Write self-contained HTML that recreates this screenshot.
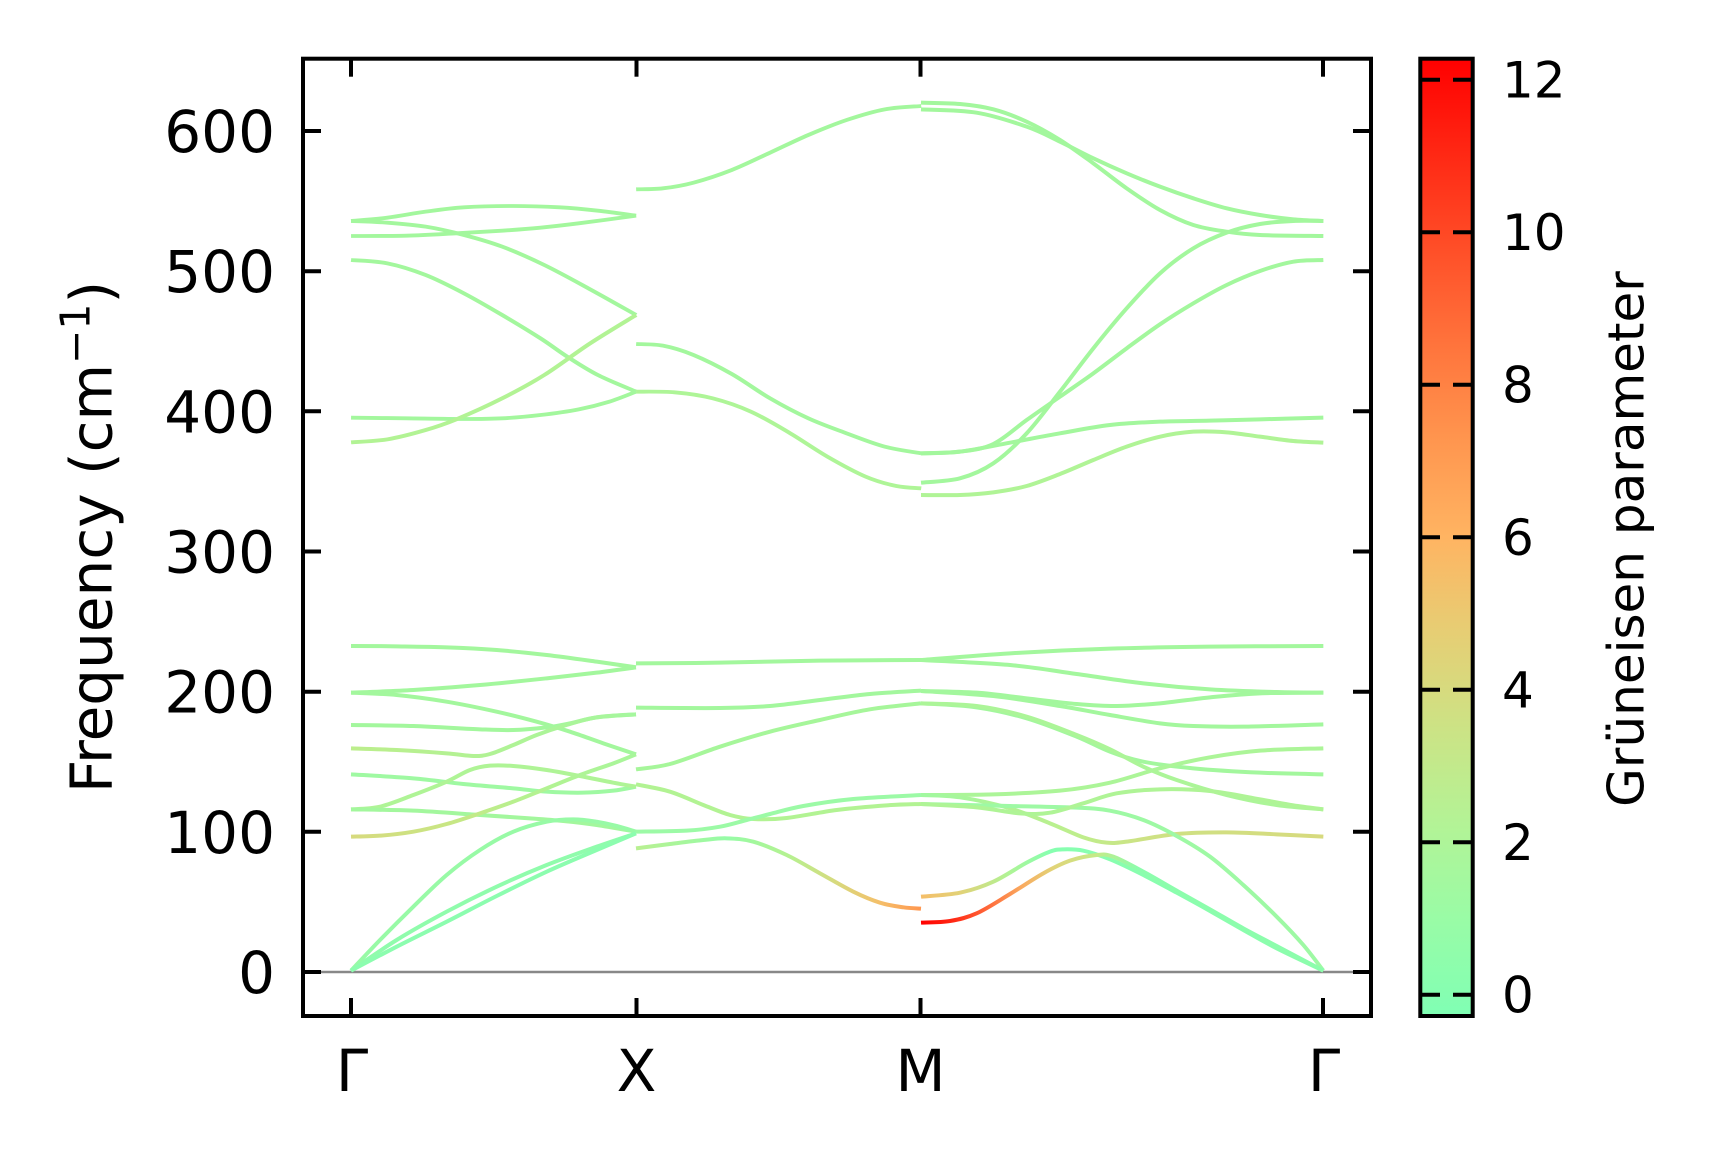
<!DOCTYPE html>
<html>
<head>
<meta charset="utf-8">
<style>
  html,body{margin:0;padding:0;background:#fff;}
  svg{display:block;}
  .g polyline,.g path{fill:none;stroke-linejoin:round;stroke-linecap:butt;}
  .t{font-family:"DejaVu Sans","Liberation Sans",sans-serif;fill:#000;}
</style>
</head>
<body>
<svg width="1717" height="1162" viewBox="0 0 1717 1162" xmlns="http://www.w3.org/2000/svg">
<defs>
  <linearGradient id="cb" x1="0" y1="1" x2="0" y2="0">
    <stop offset="0" stop-color="#80ffb4"/>
    <stop offset="0.1" stop-color="#99fca6"/>
    <stop offset="0.2" stop-color="#b3f396"/>
    <stop offset="0.3" stop-color="#cce385"/>
    <stop offset="0.4" stop-color="#e6ce74"/>
    <stop offset="0.5" stop-color="#ffb462"/>
    <stop offset="0.6" stop-color="#ff964f"/>
    <stop offset="0.7" stop-color="#ff743c"/>
    <stop offset="0.8" stop-color="#ff4f28"/>
    <stop offset="0.9" stop-color="#ff2814"/>
    <stop offset="1" stop-color="#ff0000"/>
  </linearGradient>
  <linearGradient id="g6y" gradientUnits="userSpaceOnUse" x1="63" y1="0" x2="918" y2="0">
    <stop offset="0" stop-color="rgb(215,218,126)"/>
    <stop offset="0.34" stop-color="rgb(200,230,132)"/>
    <stop offset="0.63" stop-color="rgb(180,242,145)"/>
    <stop offset="1" stop-color="rgb(168,246,155)"/>
  </linearGradient>
  <linearGradient id="g6c" gradientUnits="userSpaceOnUse" x1="63" y1="0" x2="918" y2="0">
    <stop offset="0" stop-color="rgb(188,238,140)"/>
    <stop offset="1" stop-color="rgb(165,247,158)"/>
  </linearGradient>
  <linearGradient id="g7" gradientUnits="userSpaceOnUse" x1="48" y1="0" x2="903" y2="0">
    <stop offset="0" stop-color="rgb(185,240,145)"/>
    <stop offset="0.32" stop-color="rgb(150,252,167)"/>
    <stop offset="0.53" stop-color="rgb(180,242,145)"/>
    <stop offset="0.7" stop-color="rgb(215,218,126)"/>
    <stop offset="0.86" stop-color="rgb(245,190,105)"/>
    <stop offset="1" stop-color="rgb(255,150,79)"/>
  </linearGradient>
  <linearGradient id="g8a" gradientUnits="userSpaceOnUse" x1="33" y1="0" x2="1240" y2="0">
    <stop offset="0" stop-color="rgb(160,249,160)"/>
    <stop offset="0.39" stop-color="rgb(190,238,140)"/>
    <stop offset="0.55" stop-color="rgb(205,226,132)"/>
    <stop offset="1" stop-color="rgb(215,218,126)"/>
  </linearGradient>
  <linearGradient id="g8b" gradientUnits="userSpaceOnUse" x1="33" y1="0" x2="1240" y2="0">
    <stop offset="0" stop-color="rgb(245,190,105)"/>
    <stop offset="0.1" stop-color="rgb(225,210,120)"/>
    <stop offset="0.22" stop-color="rgb(175,244,150)"/>
    <stop offset="0.32" stop-color="rgb(135,255,176)"/>
    <stop offset="1" stop-color="rgb(140,253,172)"/>
  </linearGradient>
  <linearGradient id="g8c" gradientUnits="userSpaceOnUse" x1="33" y1="0" x2="1240" y2="0">
    <stop offset="0" stop-color="rgb(255,0,0)"/>
    <stop offset="0.08" stop-color="rgb(255,40,20)"/>
    <stop offset="0.16" stop-color="rgb(255,100,55)"/>
    <stop offset="0.25" stop-color="rgb(250,170,95)"/>
    <stop offset="0.33" stop-color="rgb(225,212,120)"/>
    <stop offset="0.44" stop-color="rgb(195,235,138)"/>
    <stop offset="0.54" stop-color="rgb(140,253,172)"/>
    <stop offset="1" stop-color="rgb(140,253,172)"/>
  </linearGradient>
</defs>

<rect x="0" y="0" width="1717" height="1162" fill="#fff"/>

<!-- zero line -->
<line x1="303" y1="972" x2="1371" y2="972" stroke="#888888" stroke-width="2.5"/>

<!-- Gamma-X low (zoom6 coords) -->
<g class="g" stroke-width="12" transform="translate(330,620) scale(0.333333)">
  <polyline stroke="#a3f79d" points="63,78 200,79 350,82 500,90 650,105 800,125 918,142"/>
  <polyline stroke="#a3f79d" points="63,218 250,210 450,195 650,175 800,158 918,142"/>
  <polyline stroke="#a3f79d" points="63,218 200,225 350,245 500,275 620,305 720,335 820,370 918,403"/>
  <polyline stroke="#a3f79d" points="63,315 250,318 450,328 550,330 650,322 720,310 800,292 918,283"/>
  <polyline stroke="url(#g6c)" points="63,385 200,390 350,400 430,408 480,402 550,375 620,345 700,318 800,292 918,283"/>
  <polyline stroke="#9ff9a2" points="63,463 250,475 400,492 550,505 650,515 760,518 850,512 918,500"/>
  <polyline stroke="rgb(175,244,150)" points="63,568 150,560 250,525 350,485 420,450 480,437 550,438 650,450 750,468 850,488 918,500"/>
  <polyline stroke="#a3f79d" points="63,568 250,572 450,585 600,595 700,603 800,615 918,635"/>
  <polyline stroke="url(#g6y)" points="63,650 150,647 250,635 350,612 450,580 550,545 650,505 750,465 850,430 918,403"/>
  <polyline stroke="#98faa6" points="63,1052 150,960 250,860 350,765 450,690 550,635 650,605 730,598 800,605 860,618 918,635"/>
  <polyline stroke="#90fcac" points="63,1052 200,960 350,875 500,800 650,735 800,680 918,640"/>
  <polyline stroke="#8cfdaf" points="63,1052 200,980 350,905 500,828 650,755 800,690 918,640"/>
</g>

<!-- X-M low (zoom7 coords) -->
<g class="g" stroke-width="12" transform="translate(620,620) scale(0.333333)">
  <polyline stroke="#a3f79d" points="48,130 300,128 600,122 903,120"/>
  <polyline stroke="#a3f79d" points="48,263 300,264 450,258 600,240 750,222 903,212"/>
  <polyline stroke="#a6f69a" points="48,448 150,432 300,380 450,335 600,300 750,268 903,250"/>
  <polyline stroke="rgb(178,243,147)" points="48,493 150,515 250,555 330,585 400,597 500,594 650,570 800,556 903,552"/>
  <polyline stroke="#9cfaa6" points="48,635 200,632 300,620 380,600 450,582 550,558 700,537 903,525"/>
  <polyline stroke="url(#g7)" points="48,685 150,672 250,660 320,655 400,665 500,705 600,760 700,815 780,848 850,862 903,866"/>
</g>

<!-- M-Gamma low (zoom8 coords) -->
<g class="g" stroke-width="12" transform="translate(910,620) scale(0.333333)">
  <polyline stroke="#a3f79d" points="33,120 300,100 600,86 900,80 1240,78"/>
  <polyline stroke="#a3f79d" points="33,120 300,135 500,162 700,190 900,208 1100,216 1240,218"/>
  <polyline stroke="#a3f79d" points="33,213 200,218 350,235 500,252 620,258 750,250 900,232 1050,220 1240,218"/>
  <polyline stroke="#a3f79d" points="33,213 250,228 450,258 600,285 750,310 850,318 1000,320 1240,313"/>
  <polyline stroke="#a3f79d" points="33,250 200,262 350,295 500,350 600,395 700,425 850,445 1050,458 1240,463"/>
  <polyline stroke="rgb(172,245,152)" points="33,250 200,258 350,290 500,345 600,388 700,440 800,480 950,525 1100,555 1240,568"/>
  <polyline stroke="rgb(172,245,152)" points="33,525 250,523 450,512 600,488 750,445 900,412 1050,392 1240,385"/>
  <polyline stroke="url(#g8a)" points="33,525 150,532 300,565 420,610 520,652 590,668 650,665 800,642 950,637 1100,643 1240,650"/>
  <polyline stroke="#9ef9a4" points="33,552 300,558 500,563 600,572 700,600 800,648 900,710 1000,795 1100,890 1180,975 1240,1052"/>
  <polyline stroke="rgb(175,244,150)" points="33,552 200,562 330,580 420,578 520,550 620,520 750,508 900,513 1050,538 1150,556 1240,568"/>
  <polyline stroke="url(#g8b)" points="33,830 150,818 250,785 350,728 420,695 460,688 520,692 600,718 700,765 800,818 900,873 1000,930 1100,985 1240,1052"/>
  <polyline stroke="url(#g8c)" points="33,908 120,903 200,880 300,822 400,760 480,722 560,705 610,710 700,755 800,812 900,868 1000,925 1100,978 1240,1052"/>
</g>

<!-- Gamma-X and X-M upper (zoom9 coords, non-uniform) -->
<g class="g" stroke-width="11.5" transform="translate(330,90) scale(0.382662,0.333333)">
  <polyline stroke="#a3f79d" points="55,393 150,383 250,365 350,352 480,348 600,352 700,362 800,377"/>
  <polyline stroke="#a3f79d" points="55,393 150,398 250,410 350,435 450,470 560,525 680,598 800,675"/>
  <polyline stroke="#a3f79d" points="55,438 200,437 330,430 450,422 550,413 650,400 800,377"/>
  <polyline stroke="#a3f79d" points="55,510 150,520 250,555 350,610 450,675 550,745 620,800 700,855 800,905"/>
  <polyline stroke="#a3f79d" points="55,983 200,985 350,987 450,985 550,975 650,958 730,935 800,905"/>
  <polyline stroke="rgb(178,243,148)" points="55,1057 150,1048 250,1020 330,988 450,925 560,855 680,760 800,675"/>
  <polyline stroke="#a3f79d" points="800,298 870,295 950,278 1050,240 1150,188 1250,135 1350,90 1450,58 1545,48"/>
  <polyline stroke="#a3f79d" points="800,762 870,767 950,795 1050,852 1150,925 1250,985 1350,1030 1450,1070 1545,1090"/>
  <polyline stroke="rgb(174,245,151)" points="800,905 900,907 1000,925 1100,965 1200,1028 1300,1100 1400,1160 1480,1188 1545,1195"/>
</g>

<!-- M-Gamma upper (zoom10 coords) -->
<g class="g" stroke-width="12" transform="translate(910,90) scale(0.333333)">
  <polyline stroke="#a3f79d" points="33,58 200,68 350,110 450,155 550,205 650,250 750,290 850,325 950,355 1050,375 1150,388 1240,393"/>
  <polyline stroke="#a3f79d" points="33,38 150,42 250,58 350,95 450,150 550,220 650,295 750,360 850,405 950,425 1050,435 1240,438"/>
  <polyline stroke="#a3f79d" points="33,1178 150,1165 250,1120 350,1030 450,905 550,775 650,655 750,550 850,475 950,428 1050,402 1150,393 1240,393"/>
  <polyline stroke="#a3f79d" points="33,1090 150,1085 250,1062 350,990 450,920 550,850 650,775 750,703 850,640 950,585 1050,543 1150,515 1240,510"/>
  <polyline stroke="#a3f79d" points="33,1090 150,1085 300,1058 450,1030 600,1005 750,995 900,992 1050,988 1240,983"/>
  <polyline stroke="rgb(176,244,150)" points="33,1215 150,1215 250,1207 350,1188 450,1152 550,1110 650,1070 750,1040 850,1025 950,1027 1050,1040 1150,1053 1240,1058"/>
</g>

<!-- axes frame -->
<rect x="303" y="58.7" width="1068" height="957.3" fill="none" stroke="#000" stroke-width="4"/>
<g stroke="#000" stroke-width="4">
  <line x1="303" y1="972" x2="321" y2="972"/>
  <line x1="303" y1="831.8" x2="321" y2="831.8"/>
  <line x1="303" y1="691.7" x2="321" y2="691.7"/>
  <line x1="303" y1="551.5" x2="321" y2="551.5"/>
  <line x1="303" y1="411.3" x2="321" y2="411.3"/>
  <line x1="303" y1="271.2" x2="321" y2="271.2"/>
  <line x1="303" y1="131" x2="321" y2="131"/>
  <line x1="1353" y1="972" x2="1371" y2="972"/>
  <line x1="1353" y1="831.8" x2="1371" y2="831.8"/>
  <line x1="1353" y1="691.7" x2="1371" y2="691.7"/>
  <line x1="1353" y1="551.5" x2="1371" y2="551.5"/>
  <line x1="1353" y1="411.3" x2="1371" y2="411.3"/>
  <line x1="1353" y1="271.2" x2="1371" y2="271.2"/>
  <line x1="1353" y1="131" x2="1371" y2="131"/>
  <line x1="351" y1="1016" x2="351" y2="998"/>
  <line x1="636.5" y1="1016" x2="636.5" y2="998"/>
  <line x1="920.5" y1="1016" x2="920.5" y2="998"/>
  <line x1="1323" y1="1016" x2="1323" y2="998"/>
  <line x1="351" y1="58.7" x2="351" y2="76.7"/>
  <line x1="636.5" y1="58.7" x2="636.5" y2="76.7"/>
  <line x1="920.5" y1="58.7" x2="920.5" y2="76.7"/>
  <line x1="1323" y1="58.7" x2="1323" y2="76.7"/>
</g>

<!-- y tick labels -->
<g class="t" font-size="58" text-anchor="end">
  <text x="275" y="993">0</text>
  <text x="275" y="852.8">100</text>
  <text x="275" y="712.7">200</text>
  <text x="275" y="572.5">300</text>
  <text x="275" y="432.3">400</text>
  <text x="275" y="292.2">500</text>
  <text x="275" y="152">600</text>
</g>
<!-- x tick labels -->
<g class="t" font-size="58" text-anchor="middle">
  <text x="352" y="1091">Γ</text>
  <text x="636.5" y="1091">X</text>
  <text x="920.5" y="1091">M</text>
  <text x="1324" y="1091">Γ</text>
</g>
<!-- y label -->
<text class="t" font-size="58" text-anchor="middle" transform="translate(111.7,537) rotate(-90)">Frequency (cm<tspan font-size="41" dy="-22">−1</tspan><tspan dy="22">)</tspan></text>

<!-- colorbar -->
<rect x="1420.3" y="58.7" width="52.4" height="957.3" fill="url(#cb)" stroke="#000" stroke-width="4"/>
<g stroke="#000" stroke-width="4">
  <line x1="1420.3" y1="994.7" x2="1440" y2="994.7"/><line x1="1453" y1="994.7" x2="1472.7" y2="994.7"/>
  <line x1="1420.3" y1="842.2" x2="1440" y2="842.2"/><line x1="1453" y1="842.2" x2="1472.7" y2="842.2"/>
  <line x1="1420.3" y1="689.7" x2="1440" y2="689.7"/><line x1="1453" y1="689.7" x2="1472.7" y2="689.7"/>
  <line x1="1420.3" y1="537.2" x2="1440" y2="537.2"/><line x1="1453" y1="537.2" x2="1472.7" y2="537.2"/>
  <line x1="1420.3" y1="384.7" x2="1440" y2="384.7"/><line x1="1453" y1="384.7" x2="1472.7" y2="384.7"/>
  <line x1="1420.3" y1="232.2" x2="1440" y2="232.2"/><line x1="1453" y1="232.2" x2="1472.7" y2="232.2"/>
  <line x1="1420.3" y1="79.7" x2="1440" y2="79.7"/><line x1="1453" y1="79.7" x2="1472.7" y2="79.7"/>
</g>
<g class="t" font-size="50" text-anchor="start">
  <text x="1502" y="1012.7">0</text>
  <text x="1502" y="860.2">2</text>
  <text x="1502" y="707.7">4</text>
  <text x="1502" y="555.2">6</text>
  <text x="1502" y="402.7">8</text>
  <text x="1502" y="250.2">10</text>
  <text x="1502" y="97.7">12</text>
</g>
<text class="t" font-size="50" text-anchor="middle" transform="translate(1643.3,539) rotate(-90)">Grüneisen parameter</text>
</svg>
<script>
(function(){
  var ns='http://www.w3.org/2000/svg';
  var pls=document.querySelectorAll('.g polyline');
  for(var k=0;k<pls.length;k++){
    var pl=pls[k];
    var p=pl.getAttribute('points').trim().split(/\s+/).map(function(s){return s.split(',').map(Number);});
    if(p.length<3) continue;
    var d='M'+p[0][0]+','+p[0][1];
    for(var i=0;i<p.length-1;i++){
      var p0=p[i-1]||p[i],p1=p[i],p2=p[i+1],p3=p[i+2]||p2;
      var c1x=p1[0]+(p2[0]-p0[0])/6,c1y=p1[1]+(p2[1]-p0[1])/6;
      var c2x=p2[0]-(p3[0]-p1[0])/6,c2y=p2[1]-(p3[1]-p1[1])/6;
      d+=' C'+c1x.toFixed(1)+','+c1y.toFixed(1)+' '+c2x.toFixed(1)+','+c2y.toFixed(1)+' '+p2[0]+','+p2[1];
    }
    var path=document.createElementNS(ns,'path');
    for(var a=0;a<pl.attributes.length;a++){
      var at=pl.attributes[a];
      if(at.name!=='points') path.setAttribute(at.name,at.value);
    }
    path.setAttribute('d',d);
    pl.parentNode.replaceChild(path,pl);
  }
})();
</script>
</body>
</html>
